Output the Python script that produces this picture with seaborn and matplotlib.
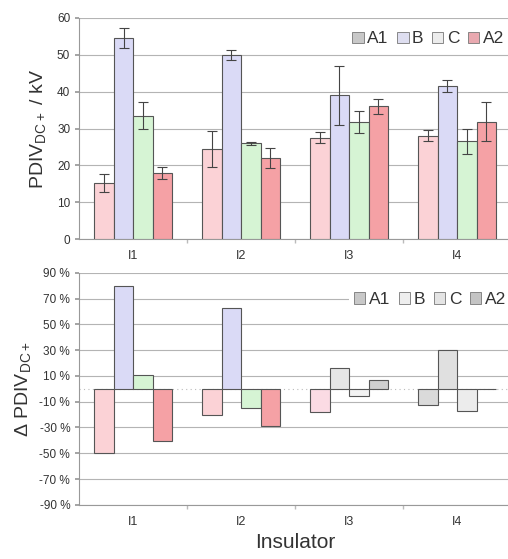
import matplotlib
matplotlib.use("Agg")
import matplotlib.pyplot as plt
from matplotlib.patches import Patch
from matplotlib.ticker import FixedLocator
import numpy as np
import pandas as pd
import seaborn as sns

# --- data -------------------------------------------------------------
insulators = ["I1", "I2", "I3", "I4"]
materials = ["A1", "B", "C", "A2"]

# mean partial-discharge inception voltage (kV) per insulator and material
pdiv_a1 = [15.3, 24.5, 27.5, 28.0]
pdiv_b = [54.5, 50.0, 39.0, 41.5]
pdiv_c = [33.5, 26.0, 31.8, 26.5]
pdiv_a2 = [18.0, 22.0, 36.0, 31.8]

# spread of the measurements (kV, +/-)
err_a1 = [2.5, 4.8, 1.5, 1.5]
err_b = [2.7, 1.3, 8.0, 1.7]
err_c = [3.6, 0.4, 3.0, 3.3]
err_a2 = [1.7, 2.8, 2.0, 5.3]

# relative deviation from the insulator mean (%)
dev_a1 = [-50, -20, -18, -12.5]
dev_b = [80, 63, 16, 30]
dev_c = [10.5, -15, -5.5, -17]
dev_a2 = [-40.5, -28.5, 7, -0.5]

pdiv_ticks = [0, 10, 20, 30, 40, 50, 60]
dev_ticks = [90, 70, 50, 30, 10, -10, -30, -50, -70, -90]

pdiv = {"A1": pdiv_a1, "B": pdiv_b, "C": pdiv_c, "A2": pdiv_a2}
errs = {"A1": err_a1, "B": err_b, "C": err_c, "A2": err_a2}
devs = {"A1": dev_a1, "B": dev_b, "C": dev_c, "A2": dev_a2}

top_df = pd.DataFrame(
    [(ins, m, pdiv[m][i]) for m in materials for i, ins in enumerate(insulators)],
    columns=["Insulator", "Material", "PDIV"],
)
bot_df = pd.DataFrame(
    [(ins, m, devs[m][i]) for m in materials for i, ins in enumerate(insulators)],
    columns=["Insulator", "Material", "Dev"],
)

# --- style --------------------------------------------------------------
sns.set_theme(style="white")
plt.rcParams["font.family"] = ["Liberation Sans", "DejaVu Sans"]
plt.rcParams["mathtext.fontset"] = "custom"
plt.rcParams["mathtext.rm"] = "Liberation Sans"

palette = {"A1": "#fbd2d6", "B": "#dadaf6", "C": "#d6f4d4", "A2": "#f5a1a5"}
edge = "#555555"
grid_c = "#b4b4b4"
text_c = "#333333"

fig = plt.figure(figsize=(5.08, 5.59), dpi=100)
ax1 = fig.add_axes([0.156, 0.572, 0.85, 0.396])
ax2 = fig.add_axes([0.156, 0.097, 0.85, 0.415])

BAR_W = 0.72

# --- top panel: absolute PDIV -----------------------------------------------
sns.barplot(
    data=top_df, x="Insulator", y="PDIV", hue="Material", order=insulators,
    hue_order=materials, palette=palette, saturation=1, width=BAR_W,
    edgecolor=edge, linewidth=0.8, errorbar=None, legend=False, ax=ax1,
    zorder=3,
)
for m, cont in zip(materials, ax1.containers):
    xs = [p.get_x() + p.get_width() / 2 for p in cont.patches]
    ax1.errorbar(xs, pdiv[m], yerr=errs[m], fmt="none", ecolor="#444444",
                 elinewidth=0.8, capsize=3.5, capthick=0.8, zorder=4)

ax1.set_ylim(0, 60)
ax1.set_xlim(-0.5, 3.5)
ax1.set_yticks(pdiv_ticks)
ax1.set_ylabel(r"PDIV$_{\mathregular{DC+}}$ / kV", fontsize=14, color=text_c,
               labelpad=6)
ax1.set_xlabel("")

# --- bottom panel: deviation from mean ---------------------------------------
sns.barplot(
    data=bot_df, x="Insulator", y="Dev", hue="Material", order=insulators,
    hue_order=materials, palette=palette, saturation=1, width=BAR_W,
    edgecolor=edge, linewidth=0.8, errorbar=None, legend=False, ax=ax2,
    zorder=3,
)
# faded fills on the two right-hand groups
faded = {
    ("B", 2): "#e6e6e6", ("C", 2): "#f2f2f2", ("A2", 2): "#cfcfcf",
    ("A1", 3): "#dadada", ("B", 3): "#e0e0e0", ("C", 3): "#ececec",
    ("A2", 3): "#d0d0d0", ("A1", 2): "#fbdbe4",
}
for m, cont in zip(materials, ax2.containers):
    for i, p in enumerate(cont.patches):
        if (m, i) in faded:
            p.set_facecolor(faded[(m, i)])

ax2.set_ylim(-90, 90)
ax2.set_xlim(-0.5, 3.5)
ax2.set_yticks(dev_ticks)
ax2.set_yticklabels([f"{t} %" for t in dev_ticks])
ax2.axhline(0, color="#bbbbbb", lw=0.8, ls=(0, (1, 3)), zorder=2)
ax2.set_ylabel(r"$\Delta$ PDIV$_{\mathregular{DC+}}$", fontsize=14,
               color=text_c, labelpad=4)
ax2.set_xlabel("Insulator", fontsize=15, color=text_c, labelpad=4)

# --- shared axis styling --------------------------------------------------
for ax in (ax1, ax2):
    ax.grid(axis="y", color=grid_c, lw=0.8, zorder=0)
    ax.set_axisbelow(True)
    for s in ("top", "right"):
        ax.spines[s].set_visible(False)
    ax.spines["left"].set_color("#999999")
    ax.spines["bottom"].set_color("#999999")
    ax.spines["left"].set_linewidth(0.8)
    ax.spines["bottom"].set_linewidth(0.8)
    ax.tick_params(axis="y", labelsize=8.5, colors=text_c, length=3,
                   color="#999999", left=True)
    ax.tick_params(axis="x", which="major", labelsize=9, colors=text_c,
                   length=0, pad=8)
    ax.xaxis.set_minor_locator(FixedLocator([0.5, 1.5, 2.5]))
    ax.tick_params(axis="x", which="minor", length=3, color="#bbbbbb",
                   bottom=True)

# --- legends --------------------------------------------------------------
top_handles = [Patch(facecolor=c, edgecolor="#777777", lw=0.6)
               for c in ["#c8c8c8", "#dedef0", "#ececec", "#e9a9b0"]]
ax1.legend(top_handles, materials, ncol=4, loc="center right",
           bbox_to_anchor=(1.0, 0.905), frameon=False, fontsize=12.5,
           handlelength=0.65, handleheight=0.65, handletextpad=0.2,
           columnspacing=0.5, borderaxespad=0.0, labelcolor=text_c)

bot_handles = [Patch(facecolor=c, edgecolor="#777777", lw=0.6)
               for c in ["#c8c8c8", "#eeeeee", "#e4e4e4", "#c4c4c4"]]
leg2 = ax2.legend(bot_handles, materials, ncol=4, loc="center right",
                  bbox_to_anchor=(1.0, 0.884), frameon=True, fontsize=12.5,
                  handlelength=0.65, handleheight=0.65, handletextpad=0.2,
                  columnspacing=0.5, borderaxespad=0.0, labelcolor=text_c,
                  facecolor="white", edgecolor="white", framealpha=1.0,
                  borderpad=0.3)
leg2.get_frame().set_linewidth(0)

fig.savefig("out.png", dpi=100)
